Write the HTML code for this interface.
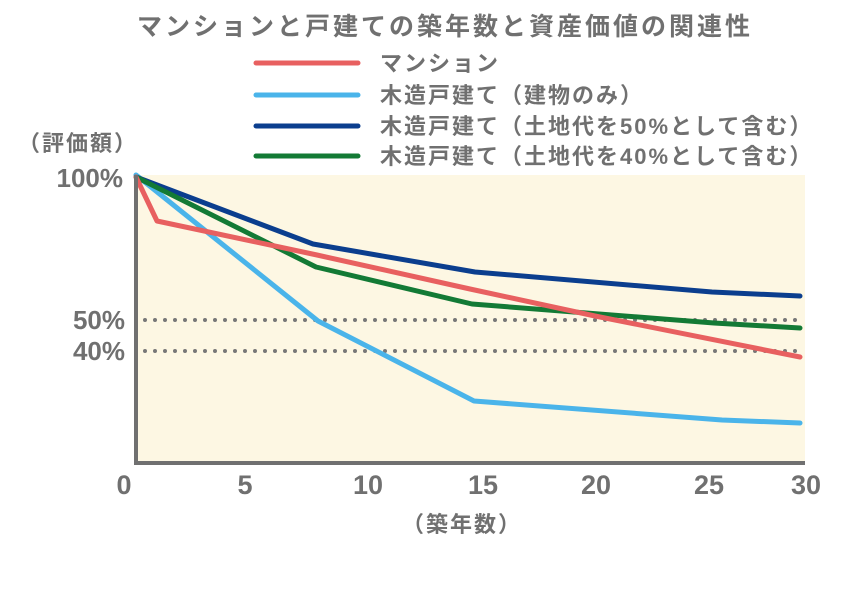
<!DOCTYPE html>
<html><head><meta charset="utf-8"><style>
html,body{margin:0;padding:0;background:#fff;}
svg text{font-family:"Liberation Sans","Noto Sans CJK JP",sans-serif;font-weight:bold;fill:#707070;}
</style></head><body>
<svg width="850" height="600" viewBox="0 0 850 600">
<text x="445" y="35" font-size="25" letter-spacing="3" text-anchor="middle" fill="#6a6a6a">マンションと戸建ての築年数と資産価値の関連性</text>
<g stroke-width="5" stroke-linecap="round">
<line x1="256" y1="63" x2="358" y2="63" stroke="#e86060"/>
<line x1="256" y1="95" x2="358" y2="95" stroke="#4ab4ea"/>
<line x1="256" y1="126" x2="358" y2="126" stroke="#0b3e8e"/>
<line x1="256" y1="156" x2="358" y2="156" stroke="#137a35"/>
</g>
<g font-size="22" letter-spacing="2">
<text x="380" y="71">マンション</text>
<text x="380" y="103">木造戸建て（建物のみ）</text>
<text x="380" y="134">木造戸建て（土地代を50%として含む）</text>
<text x="380" y="164">木造戸建て（土地代を40%として含む）</text>
</g>
<rect x="136" y="175" width="669" height="287" fill="#fdf7e3"/>
<g stroke="#777" stroke-width="4" stroke-dasharray="0 10" stroke-linecap="round">
<line x1="145" y1="320" x2="805" y2="320"/>
<line x1="145" y1="351" x2="805" y2="351"/>
</g>
<g fill="none" stroke-width="5" stroke-linejoin="round" stroke-linecap="round">
<polyline stroke="#4ab4ea" points="136,175 318,321 474,401 722,420 800,423"/>
<polyline stroke="#0b3e8e" points="136,177 313,244 475,272 712,292 800,296"/>
<polyline stroke="#137a35" points="136,177 316,267 472,304 714,323 800,328"/>
<polyline stroke="#e86060" points="136,177 157,221 317,255 470,289 595,316 800,357"/>
</g>
<line x1="136" y1="175" x2="136" y2="463" stroke="#707070" stroke-width="4"/>
<line x1="134" y1="463" x2="805" y2="463" stroke="#707070" stroke-width="4"/>
<g font-size="26" text-anchor="end">
<text x="123" y="187">100%</text>
<text x="125" y="329">50%</text>
<text x="125" y="360">40%</text>
</g>
<text x="18" y="151" font-size="22" letter-spacing="2">（評価額）</text>
<g font-size="27" text-anchor="middle">
<text x="124" y="494">0</text>
<text x="245" y="494">5</text>
<text x="368" y="494">10</text>
<text x="483" y="494">15</text>
<text x="596" y="494">20</text>
<text x="709" y="494">25</text>
<text x="806" y="494">30</text>
</g>
<text x="462" y="532" font-size="22" letter-spacing="2" text-anchor="middle">（築年数）</text>
</svg>
</body></html>
